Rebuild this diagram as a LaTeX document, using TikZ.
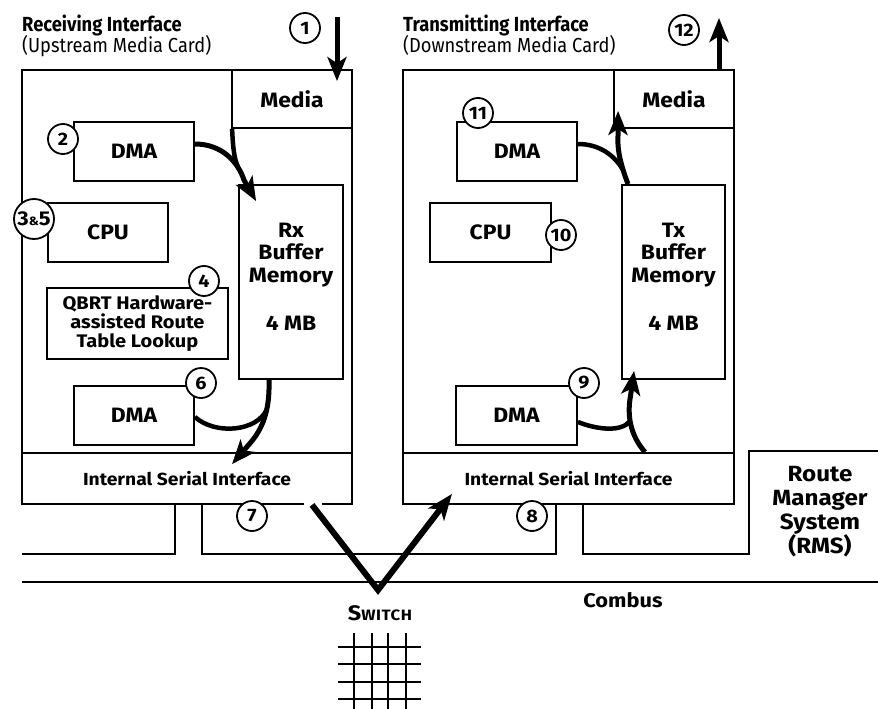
\documentclass[tikz,border=0pt]{standalone}
\usepackage{fontspec}
\setmainfont{Fira Sans}[FakeStretch=0.9]
\newfontfamily\widefont{Fira Sans}[FakeStretch=1.1]
\newfontfamily\capsfont{Fira Sans}[FakeStretch=1.12, LetterSpace=4]
\usetikzlibrary{arrows.meta}
\begin{document}
\begin{tikzpicture}[x=1pt,y=-1pt,
  title/.style={anchor=base west, inner sep=0pt, font=\bfseries\fontsize{20.4}{24}\selectfont},
  subtitle/.style={anchor=base west, inner sep=0pt, font=\fontsize{20.3}{22}\selectfont},
  box/.style={draw, line width=1.8pt, inner sep=0pt, align=center,
    font=\widefont\bfseries\fontsize{20.8}{22.5}\selectfont},
  boxtext/.style={inner sep=0pt, align=center, font=\widefont\bfseries\fontsize{20.8}{22.5}\selectfont},
  isitext/.style={font=\widefont\bfseries\fontsize{17.5}{19}\selectfont},
  qbrttext/.style={font=\widefont\bfseries\fontsize{18.2}{19}\selectfont},
  num/.style={circle, draw, line width=1.8pt, fill=white, minimum size=30pt,
    inner sep=0pt, font=\widefont\bfseries\fontsize{18}{18}\selectfont},
  flow/.style={line width=5pt, -{Stealth[length=24pt,width=19pt,inset=6pt]}},
  vflow/.style={line width=6pt, -{Stealth[length=26pt,width=20pt,inset=7pt]}},
  branch/.style={line width=4.5pt},
  wire/.style={line width=1.8pt},
  gridline/.style={line width=2.4pt}]

\fill[white] (0,0) rectangle (878,709);
\useasboundingbox (0,0) rectangle (878,709);

% headings
\node[title] (rtitle) at (22,32) {Receiving Interface};
\node[subtitle] (rsub) at (22,53) {(Upstream Media Card)};
\node[title] (ttitle) at (403,32) {Transmitting Interface};
\node[subtitle] (tsub) at (403,53) {(Downstream Media Card)};

% receiving card
\node[box, minimum width=330pt, minimum height=434pt] (card1) at (187,287) {};
\node[box, minimum width=120pt, minimum height=58pt] (media1) at (292,99) {Media};
\node[box, minimum width=120pt, minimum height=59pt] (dma1) at (134,151.5) {DMA};
\node[box, minimum width=120pt, minimum height=59pt] (cpu1) at (108,232.5) {CPU};
\node[box, qbrttext, minimum width=181pt, minimum height=71pt] (qbrt) at (137.5,323.5)
  {QBRT Hardware-\\assisted Route\\Table Lookup};
\node[box, minimum width=120pt, minimum height=59pt] (dma2) at (134,415.5) {DMA};
\node[box, minimum width=104pt, minimum height=194pt] (rx) at (291,282) {};
\node[boxtext] (rxtext) at (291,277) {Rx\\Buffer\\Memory\\[26pt]4 MB};
\node[box, isitext, minimum width=330pt, minimum height=51pt] (isi1) at (187,478.5)
  {Internal Serial Interface};

% transmitting card
\node[box, minimum width=331pt, minimum height=434pt] (card2) at (568.5,287) {};
\node[box, minimum width=120pt, minimum height=58pt] (media2) at (674,99) {Media};
\node[box, minimum width=120pt, minimum height=59pt] (dma3) at (517,151.5) {DMA};
\node[box, minimum width=121pt, minimum height=59pt] (cpu2) at (490.5,232.5) {CPU};
\node[box, minimum width=121pt, minimum height=59pt] (dma4) at (516.5,415.5) {DMA};
\node[box, minimum width=103pt, minimum height=194pt] (tx) at (673.5,282) {};
\node[boxtext] (txtext) at (673.5,277) {Tx\\Buffer\\Memory\\[26pt]4 MB};
\node[box, isitext, minimum width=331pt, minimum height=51pt] (isi2) at (568.5,478.5)
  {Internal Serial Interface};

% bends and merge points of the data paths
\coordinate (k1) at (244,180);
\coordinate (m1) at (238,167);
\coordinate (k2) at (248.5,445);
\coordinate (m2) at (267,409);
\coordinate (k3) at (618,136);
\coordinate (m3) at (623,170);
\coordinate (k4) at (630.5,396);
\coordinate (m4) at (630,421);

% packet path inside the receiving card
\coordinate (in1) at (337,17);
\draw[flow] (in1) -- ([xshift=45pt,yshift=-12pt]media1.north);
\draw[branch] ([xshift=1pt]media1.south west) .. controls (233,148) and (234,158) .. (m1);
\draw[flow] ([yshift=7.5pt]dma1.east) .. controls (222,144) and (238,162) .. (k1)
  -- ([xshift=18pt,yshift=-17pt]rx.north west);
\draw[branch] ([yshift=-1.5pt]dma2.east) .. controls (215,435) and (257,432) .. (m2);
\draw[flow] ([xshift=-22pt]rx.south) .. controls (270,412) and (262,430) .. (k2)
  -- ([xshift=45pt,yshift=-12pt]isi1.north);

% packet path inside the transmitting card
\draw[branch] ([yshift=7.5pt]dma3.east) .. controls (600,144) and (615,156) .. (m3);
\draw[flow] ([xshift=-45.5pt]tx.north) .. controls (622,168) and (617,152) .. (k3)
  -- ([xshift=5pt,yshift=18pt]media2.south west);
\draw[branch] ([yshift=-6.5pt]dma4.east) .. controls (598,430) and (622,432) .. (m4);
\draw[flow] ([xshift=76.5pt]isi2.north) .. controls (630,435) and (627,415) .. (k4)
  -- ([xshift=13pt,yshift=9pt]tx.south west);
\coordinate (out12) at (719,18);
\draw[flow] ([xshift=45pt]media2.north) -- (out12);

% backplane wiring
\draw[wire] ([xshift=-12pt]isi1.south) -- (175,554) -- (22,554);
\draw[wire] ([xshift=15pt]isi1.south) -- (202,554) -- (556,554) -- ([xshift=-12.5pt]isi2.south);
\draw[wire] ([xshift=14.5pt]isi2.south) -- (583,554) -- (749,554) -- (749,451) -- (878,451);
\node[boxtext, font=\widefont\bfseries\fontsize{22}{24}\selectfont] (rms) at (820,512)
  {Route\\Manager\\System\\(RMS)};
\draw[wire] (22,582) -- (878,582);
\node[boxtext, font=\widefont\bfseries\fontsize{19.8}{22}\selectfont] (combus) at (623,600) {Combus};

% switch fabric
\coordinate (swapex) at (378,590);
\draw[white, line width=4pt] (304,504) -- (322,504);
\draw[vflow] ([xshift=125pt]isi1.south) -- (swapex) -- ([xshift=-116.5pt,yshift=11pt]isi2.south);
\node[inner sep=0pt, font=\capsfont\bfseries] (switch) at (380,613)
  {\fontsize{21}{21}\selectfont S\fontsize{15}{15}\selectfont WITCH};
\foreach \x in {354,372,388,406} \draw[gridline] (\x,633) -- (\x,709);
\foreach \y in {647,664,682,699} \draw[gridline] (338,\y) -- (421,\y);

% step numbers
\node[num] (c1) at (305,28) {1};
\node[num] (c2) at (63,139) {2};
\node[num, minimum size=40pt, font=\widefont\bfseries\fontsize{20}{20}\selectfont] (c35) at (34,219)
  {3{\fontsize{12}{12}\selectfont\&}5};
\node[num] (c4) at (204,281) {4};
\node[num] (c6) at (201,383) {6};
\node[num] (c7) at (252,516) {7};
\node[num] (c8) at (532,516) {8};
\node[num] (c9) at (584,383) {9};
\node[num] (c10) at (561,235) {10};
\node[num] (c11) at (478,113) {11};
\node[num] (c12) at (684,30) {12};
\end{tikzpicture}
\end{document}
